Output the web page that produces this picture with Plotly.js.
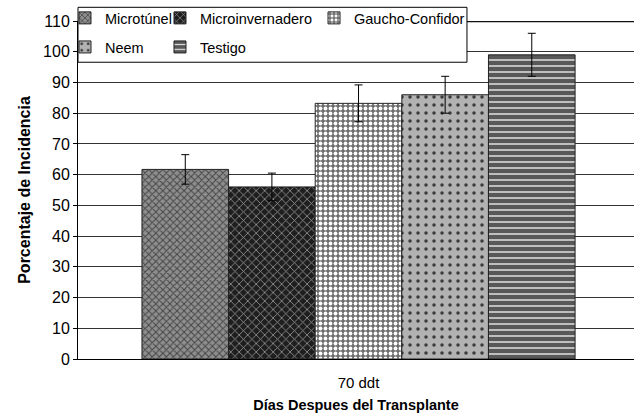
<!DOCTYPE html>
<html><head><meta charset="utf-8">
<script src="https://cdn.plot.ly/plotly-3.0.1.min.js"></script>
<style>html,body{margin:0;padding:0;background:#fff}</style>
</head><body><div id="chart" style="width:634px;height:415px"></div>
<script>
// ---- data ----
const categories = ['70 ddt'];
const seriesNames = ['Microtúnel', 'Microinvernadero', 'Gaucho-Confidor', 'Neem', 'Testigo'];
const seriesValues = [61.7, 56.0, 83.2, 86.0, 99.0];
const seriesErrors = [4.8, 4.5, 6.0, 6.0, 7.0];
const yTickValues = [0, 10, 20, 30, 40, 50, 60, 70, 80, 90, 100, 110];

// ---- styles ----
const patterns = [
  {shape: 'x', bgcolor: '#8e8e8e', fgcolor: '#454545', size: 5, solidity: 0.35},
  {shape: 'x', bgcolor: '#1e1e1e', fgcolor: '#9a9a9a', size: 6, solidity: 0.25},
  {shape: '.', bgcolor: '#6e6e6e', fgcolor: '#ffffff', size: 5, solidity: 0.45},
  {shape: '.', bgcolor: '#b2b2b2', fgcolor: '#3a3a3a', size: 8, solidity: 0.15},
  {shape: '-', bgcolor: '#585858', fgcolor: '#e0e0e0', size: 6, solidity: 0.25}
];
const legendIds = ['legend', 'legend', 'legend3', 'legend2', 'legend2'];
const legendWidths = [50, null, null, 50, null];

const FONT = 'Liberation Sans, Arial, sans-serif';

const traces = seriesNames.map((name, i) => {
  const t = {
    type: 'bar',
    name: name,
    x: categories,
    y: [seriesValues[i]],
    error_y: {type: 'data', array: [seriesErrors[i]], visible: true, color: '#000', thickness: 1, width: 4},
    marker: {color: patterns[i].bgcolor, pattern: patterns[i], line: {color: '#222', width: 1}},
    legend: legendIds[i],
    hoverinfo: 'skip'
  };
  if (legendWidths[i]) t.legendwidth = legendWidths[i];
  return t;
});

const legendBase = {
  orientation: 'h', xanchor: 'left', yanchor: 'middle',
  bgcolor: 'rgba(0,0,0,0)', borderwidth: 0,
  font: {family: FONT, size: 14.5, color: '#000'},
  traceorder: 'normal'
};

const layout = {
  width: 634, height: 415,
  margin: {l: 78, r: 0, t: 21, b: 56, autoexpand: false},
  paper_bgcolor: '#fff', plot_bgcolor: '#fff',
  barmode: 'group', bargap: 0.228, bargroupgap: 0,
  font: {family: FONT, color: '#000'},
  xaxis: {
    type: 'category', range: [-0.5, 0.491],
    showline: true, linecolor: '#000', linewidth: 1,
    ticks: '', showgrid: false, zeroline: false,
    ticklabelstandoff: 10,
    tickfont: {family: FONT, size: 15, color: '#000'},
    title: {text: 'Días Despues del Transplante', font: {family: FONT, size: 14.5, color: '#000', weight: 'bold'}, standoff: 9}
  },
  yaxis: {
    range: [0, 110], tickvals: yTickValues, ticktext: yTickValues.map(String),
    showline: true, linecolor: '#000', linewidth: 1,
    ticks: 'outside', ticklen: 4, tickcolor: '#000',
    showgrid: true, gridcolor: '#333', gridwidth: 1, zeroline: false,
    tickfont: {family: FONT, size: 16, color: '#000'},
    title: {text: 'Porcentaje de Incidencia', font: {family: FONT, size: 16, color: '#000', weight: 'bold'}, standoff: 8}
  },
  legend: Object.assign({}, legendBase, {x: -0.0234, y: 1.009}),
  legend2: Object.assign({}, legendBase, {x: -0.0234, y: 0.923}),
  legend3: Object.assign({}, legendBase, {x: 0.4245, y: 1.009}),
  shapes: [
    {type: 'line', xref: 'paper', yref: 'y', x0: 0, x1: 1, y0: 110, y1: 110, line: {color: '#111', width: 2.5}, layer: 'above'},
    {type: 'rect', xref: 'paper', yref: 'paper', x0: 0, x1: 0.6996, y0: 0.878, y1: 1.0405, fillcolor: '#fff', line: {color: '#000', width: 1}, layer: 'above'}
  ],
  showlegend: true
};

Plotly.newPlot('chart', traces, layout, {displayModeBar: false, staticPlot: true});
</script>
</body></html>
